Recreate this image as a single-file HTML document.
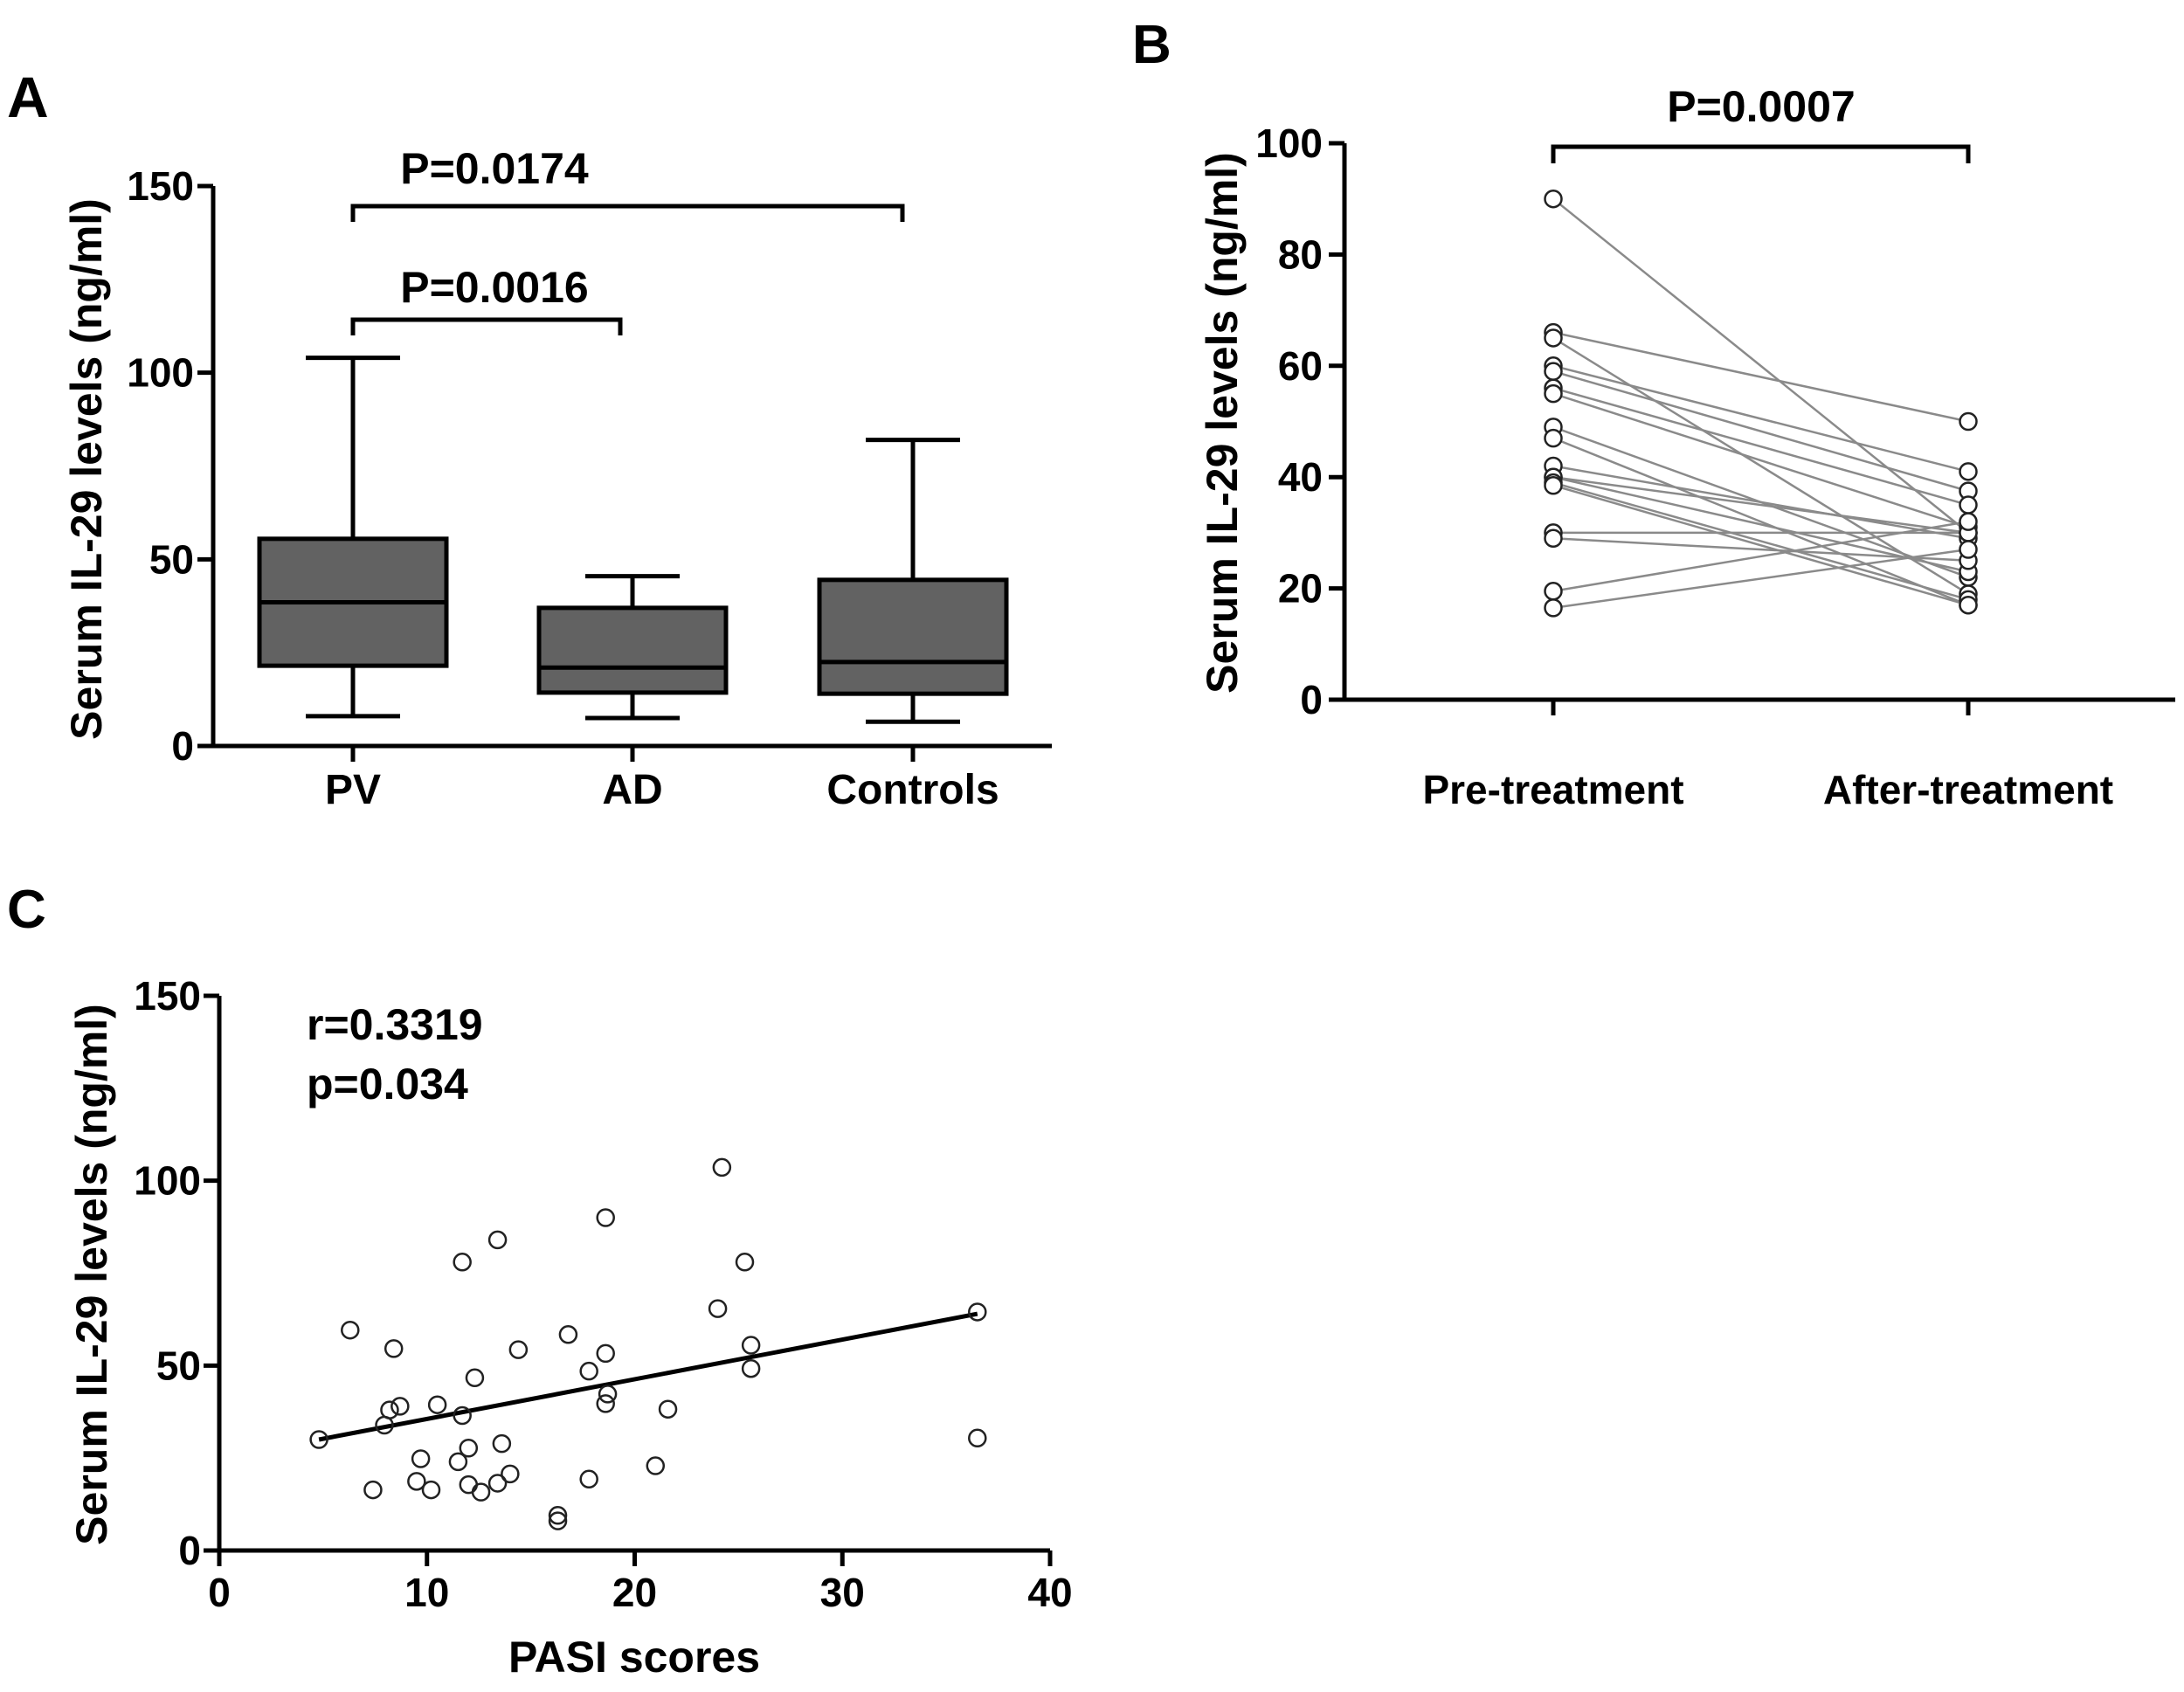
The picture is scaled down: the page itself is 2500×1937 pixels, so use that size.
<!DOCTYPE html>
<html><head><meta charset="utf-8"><style>
html,body{margin:0;padding:0;background:#fff}
svg{display:block}
text{font-family:"Liberation Sans",Arial,sans-serif;font-weight:bold;fill:#000}
</style></head><body>
<svg id="fig" width="2500" height="1937" viewBox="0 0 2500 1937" xmlns="http://www.w3.org/2000/svg">
<g id="pA"></g>
<g id="pB"></g>
<g id="pC"></g>
</svg>
<script>
// Panel A data
const aCategories = ["PV","AD","Controls"];
const aMin = [8, 7.5, 6.5];
const aQ1 = [21.5, 14.3, 14];
const aMedian = [38.5, 21, 22.5];
const aQ3 = [55.5, 37, 44.5];
const aMax = [104, 45.5, 82];
const aTicks = [0, 50, 100, 150];
// Panel B data
const bCategories = ["Pre-treatment","After-treatment"];
const bPre =   [90, 66, 65, 60, 59, 56, 55, 49, 47, 42, 40, 40, 39, 38.5, 30, 29, 19.5, 16.5];
const bAfter = [30, 50, 19, 41, 37.5, 35, 31, 22, 17, 29, 30, 23, 18, 17, 30, 25, 32, 27];
const bTicks = [0, 20, 40, 60, 80, 100];
// Panel C data
const cPasi = [4.8,6.3,7.4,7.95,8.2,8.4,8.7,9.5,9.7,10.2,10.5,11.5,11.7,11.7,12,12,12.3,12.6,13.4,13.4,13.6,14,14.4,16.3,16.3,16.8,17.8,17.8,18.6,18.6,18.7,18.6,21.6,21,24,24.2,25.3,25.6,25.6,36.5,36.5];
const cIL29 = [30,59.6,16.4,33.9,38,54.6,39,18.7,24.8,16.4,39.4,24,36.5,78,27.7,17.8,46.7,15.8,18.2,84,28.9,20.7,54.3,9.5,8,58.4,19.3,48.5,53.3,90,42.3,39.7,38.2,22.9,65.4,103.6,78,55.5,49.2,64.5,30.4];
const cFitX = [4.8, 36.5];
const cFitY = [30, 64];
const cXTicks = [0, 10, 20, 30, 40];
const cYTicks = [0, 50, 100, 150];

const NS = "http://www.w3.org/2000/svg";
function mk(parent, tag, attrs, txt){
  const e = document.createElementNS(NS, tag);
  for (const k in attrs) e.setAttribute(k, attrs[k]);
  if (txt !== undefined) e.textContent = txt;
  parent.appendChild(e);
  return e;
}
const LW = 5;

// ---------- Panel A ----------
(function(){
  const g = document.getElementById('pA');
  const x0 = 244, xEnd = 1204, y0 = 854, y150 = 213;
  const ys = v => y0 - (y0 - y150) * v / 150;
  const catX = [404, 724, 1045];
  let t = mk(g,'text',{x:8,y:134,'font-size':66},'A');
   
  let ax = mk(g,'line',{x1:x0,y1:ys(150),x2:x0,y2:y0+2,stroke:'#000','stroke-width':LW});
   
  let xa = mk(g,'line',{x1:x0-2,y1:y0,x2:xEnd,y2:y0,stroke:'#000','stroke-width':LW});
   
  aTicks.forEach(v=>{
    const tk = mk(g,'line',{x1:x0-18,y1:ys(v),x2:x0,y2:ys(v),stroke:'#000','stroke-width':LW});
     
    const tl = mk(g,'text',{x:222,y:ys(v)+16,'font-size':46,'text-anchor':'end'},String(v));
     
  });
  const bw = 214, cw = 108;
  aCategories.forEach((c,i)=>{
    const cx = catX[i];
    const tk = mk(g,'line',{x1:cx,y1:y0,x2:cx,y2:y0+18,stroke:'#000','stroke-width':LW});
     
    const wh = mk(g,'line',{x1:cx,y1:ys(aMax[i]),x2:cx,y2:ys(aMin[i]),stroke:'#000','stroke-width':LW});
     
    [aMax[i],aMin[i]].forEach(v=>{
      const cap = mk(g,'line',{x1:cx-cw/2,y1:ys(v),x2:cx+cw/2,y2:ys(v),stroke:'#000','stroke-width':LW});
       
    });
    const bx = mk(g,'rect',{x:cx-bw/2,y:ys(aQ3[i]),width:bw,height:ys(aQ1[i])-ys(aQ3[i]),fill:'#626262',stroke:'#000','stroke-width':LW});
     
    const md = mk(g,'line',{x1:cx-bw/2,y1:ys(aMedian[i]),x2:cx+bw/2,y2:ys(aMedian[i]),stroke:'#000','stroke-width':LW});
     
    const lb = mk(g,'text',{x:cx,y:920,'font-size':48,'text-anchor':'middle'},c);
     
  });
  function bracket(xa,xb,y,label,ty){
    const p = mk(g,'path',{d:`M${xa},${y+18} V${y} H${xb} V${y+18}`,fill:'none',stroke:'#000','stroke-width':LW});
     
    const tt = mk(g,'text',{x:566,y:ty,'font-size':50,'text-anchor':'middle'},label);
     
  }
  bracket(404,1033,236,'P=0.0174',210);
  bracket(404,710,366,'P=0.0016',346);
  const yt = mk(g,'text',{x:0,y:0,'font-size':50,'text-anchor':'middle',transform:'translate(116,537) rotate(-90)'},'Serum IL-29 levels (ng/ml)');
   
})();

// ---------- Panel B ----------
(function(){
  const g = document.getElementById('pB');
  const x0 = 1539, xEnd = 2490, y0 = 801, y100 = 164;
  const ys = v => y0 - (y0 - y100) * v / 100;
  const catX = [1778, 2253];
  let t = mk(g,'text',{x:1296,y:72,'font-size':62},'B');
   
  let ax = mk(g,'line',{x1:x0,y1:y100,x2:x0,y2:y0+2,stroke:'#000','stroke-width':LW});
   
  let xa = mk(g,'line',{x1:x0-2,y1:y0,x2:xEnd,y2:y0,stroke:'#000','stroke-width':LW});
   
  bTicks.forEach(v=>{
    const tk = mk(g,'line',{x1:x0-18,y1:ys(v),x2:x0,y2:ys(v),stroke:'#000','stroke-width':LW});
     
    const tl = mk(g,'text',{x:1514,y:ys(v)+16,'font-size':46,'text-anchor':'end'},String(v));
     
  });
  bCategories.forEach((c,i)=>{
    const tk = mk(g,'line',{x1:catX[i],y1:y0,x2:catX[i],y2:y0+18,stroke:'#000','stroke-width':LW});
     
    const lb = mk(g,'text',{x:catX[i],y:920,'font-size':46,'text-anchor':'middle'},c);
     
  });
  bPre.forEach((v,i)=>{
    const ln = mk(g,'line',{x1:catX[0],y1:ys(v),x2:catX[1],y2:ys(bAfter[i]),stroke:'#8a8a8a','stroke-width':2.5});
     
  });
  bPre.forEach((v,i)=>{
    const c1 = mk(g,'circle',{cx:catX[0],cy:ys(v),r:9.5,fill:'#fff',stroke:'#222','stroke-width':2.5});
     
    const c2 = mk(g,'circle',{cx:catX[1],cy:ys(bAfter[i]),r:9.5,fill:'#fff',stroke:'#222','stroke-width':2.5});
     
  });
  const p = mk(g,'path',{d:`M1778,187 V168 H2253 V187`,fill:'none',stroke:'#000','stroke-width':LW});
   
  const tt = mk(g,'text',{x:2016,y:139,'font-size':50,'text-anchor':'middle'},'P=0.0007');
   
  const yt = mk(g,'text',{x:0,y:0,'font-size':50,'text-anchor':'middle',transform:'translate(1416,484) rotate(-90)'},'Serum IL-29 levels (ng/ml)');
   
})();

// ---------- Panel C ----------
(function(){
  const g = document.getElementById('pC');
  const x0 = 251, x40 = 1202, y0 = 1775, y150 = 1140;
  const xs = v => x0 + (x40 - x0) * v / 40;
  const ys = v => y0 - (y0 - y150) * v / 150;
  let t = mk(g,'text',{x:8,y:1062,'font-size':62},'C');
   
  let ax = mk(g,'line',{x1:x0,y1:y150,x2:x0,y2:y0+2,stroke:'#000','stroke-width':LW});
   
  let xa = mk(g,'line',{x1:x0-2,y1:y0,x2:x40,y2:y0,stroke:'#000','stroke-width':LW});
   
  cYTicks.forEach(v=>{
    const tk = mk(g,'line',{x1:x0-18,y1:ys(v),x2:x0,y2:ys(v),stroke:'#000','stroke-width':LW});
     
    const tl = mk(g,'text',{x:230,y:ys(v)+16,'font-size':46,'text-anchor':'end'},String(v));
     
  });
  cXTicks.forEach(v=>{
    const tk = mk(g,'line',{x1:xs(v),y1:y0,x2:xs(v),y2:y0+18,stroke:'#000','stroke-width':LW});
     
    const tl = mk(g,'text',{x:xs(v),y:1839,'font-size':46,'text-anchor':'middle'},String(v));
     
  });
  const fit = mk(g,'line',{x1:xs(cFitX[0]),y1:ys(cFitY[0]),x2:xs(cFitX[1]),y2:ys(cFitY[1]),stroke:'#000','stroke-width':LW});
   
  cPasi.forEach((v,i)=>{
    const c = mk(g,'circle',{cx:xs(v),cy:ys(cIL29[i]),r:9.5,fill:'none',stroke:'#222','stroke-width':2.5});
     
  });
  const r = mk(g,'text',{x:351,y:1190,'font-size':50},'r=0.3319');
   
  const p = mk(g,'text',{x:351,y:1258,'font-size':50},'p=0.034');
   
  const xt = mk(g,'text',{x:726,y:1914,'font-size':50,'text-anchor':'middle'},'PASI scores');
   
  const yt = mk(g,'text',{x:0,y:0,'font-size':50,'text-anchor':'middle',transform:'translate(122,1459) rotate(-90)'},'Serum IL-29 levels (ng/ml)');
   
})();
</script>
</body></html>
